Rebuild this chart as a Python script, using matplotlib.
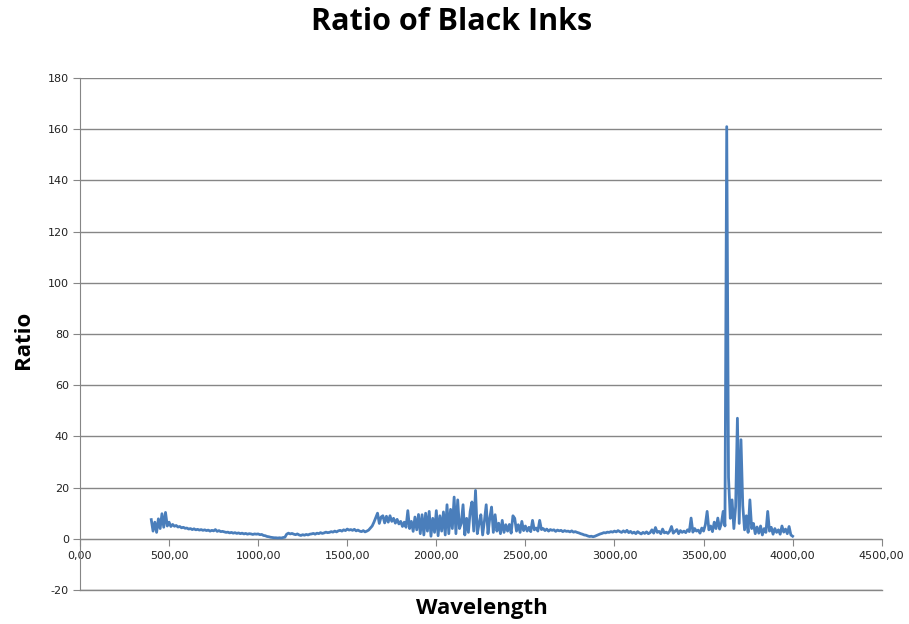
import numpy as np
import matplotlib.pyplot as plt
from matplotlib.ticker import FuncFormatter, MultipleLocator

# wavelength grid, 10 units apart, 400 .. 4000
wavelength = np.arange(400, 4001, 10)

# ratio readings, one row per 100 units of wavelength
ratio = [
    7.5, 3.0, 6.5, 2.5, 7.8, 4.0, 9.8, 4.5, 10.3, 5.0,      # 400
    6.5, 4.8, 5.6, 4.9, 5.2, 4.6, 4.8, 4.3, 4.5, 4.1,       # 500
    4.2, 3.8, 4.0, 3.6, 3.9, 3.5, 3.7, 3.4, 3.6, 3.3,       # 600
    3.5, 3.2, 3.4, 3.0, 3.3, 3.1, 3.6, 2.9, 3.2, 2.8,       # 700
    2.9, 2.7, 2.5, 2.6, 2.3, 2.5, 2.2, 2.4, 2.1, 2.3,       # 800
    2.0, 2.2, 1.9, 2.1, 1.8, 2.0, 1.9, 1.7, 1.9, 1.8,       # 900
    1.9, 1.6, 1.7, 1.3, 1.2, 0.9, 0.8, 0.6, 0.5, 0.4,       # 1000
    0.4, 0.3, 0.4, 0.3, 0.5, 0.6, 1.8, 2.2, 1.9, 2.1,       # 1100
    1.8, 1.6, 1.9, 1.5, 1.3, 1.6, 1.4, 1.7, 1.5, 1.8,       # 1200
    1.9, 2.1, 1.8, 2.2, 2.0, 2.4, 2.1, 2.3, 2.6, 2.4,       # 1300
    2.5, 2.8, 2.6, 3.0, 2.7, 3.1, 3.3, 3.0, 3.5, 3.2,       # 1400
    3.8, 3.4, 3.6, 3.3, 3.7, 3.1, 3.4, 3.0, 2.8, 3.2,       # 1500
    2.7, 3.0, 3.4, 4.2, 5.0, 6.5, 8.2, 10.0, 6.0, 8.5,      # 1600
    9.0, 6.2, 8.8, 6.5, 9.0, 6.8, 8.0, 6.1, 7.6, 5.8,       # 1700
    6.8, 4.8, 6.5, 4.5, 11.0, 4.0, 6.8, 2.9, 8.5, 3.5,      # 1800
    9.5, 2.0, 9.4, 1.5, 10.0, 3.0, 10.7, 1.0, 8.0, 2.5,     # 1900
    11.0, 1.2, 9.0, 3.0, 10.5, 1.5, 13.3, 2.0, 11.5, 4.0,   # 2000
    16.3, 2.0, 15.2, 4.0, 6.0, 13.3, 1.5, 8.0, 2.5, 10.7,   # 2100
    14.4, 3.0, 18.9, 2.0, 6.0, 9.4, 1.5, 7.0, 13.3, 2.0,    # 2200
    8.0, 12.4, 2.5, 9.4, 3.0, 6.1, 2.0, 7.2, 2.5, 5.5,      # 2300
    3.0, 5.6, 2.2, 9.0, 8.0, 3.0, 5.5, 2.5, 6.8, 3.2,       # 2400
    5.0, 3.0, 4.5, 2.8, 7.2, 3.5, 4.2, 3.0, 7.2, 3.6,       # 2500
    4.0, 3.2, 3.8, 3.0, 3.6, 3.3, 3.5, 2.9, 3.4, 3.1,       # 2600
    3.3, 2.8, 3.2, 2.9, 3.0, 2.7, 3.1, 2.6, 2.8, 2.5,       # 2700
    2.3, 2.0, 1.8, 1.5, 1.4, 1.1, 0.9, 1.0, 0.8, 1.0,       # 2800
    1.3, 1.6, 1.9, 2.1, 2.4, 2.3, 2.6, 2.5, 2.8, 2.6,       # 2900
    3.0, 2.7, 3.2, 2.8, 2.5, 3.1, 2.6, 3.3, 2.4, 2.9,       # 3000
    2.2, 2.6, 2.0, 2.8, 2.3, 1.9, 2.5, 2.1, 2.7, 2.0,       # 3100
    2.4, 3.5, 2.2, 4.4, 2.5, 2.9, 2.0, 3.8, 2.3, 2.6,       # 3200
    2.1, 3.0, 4.8, 2.2, 2.9, 3.6, 2.0, 3.2, 2.5, 3.0,       # 3300
    2.4, 3.5, 2.8, 8.1, 2.6, 4.0, 3.0, 3.4, 2.2, 4.2,       # 3400
    3.0, 5.5, 10.7, 3.5, 5.0, 2.8, 6.5, 4.0, 8.1, 3.8,      # 3500
    6.0, 10.7, 5.0, 161.0, 24.0, 8.0, 15.2, 4.0, 12.6, 47.1,  # 3600
    6.0, 38.7, 13.0, 3.5, 9.0, 2.5, 15.2, 4.0, 6.0, 2.0,    # 3700
    4.6, 2.2, 5.0, 1.5, 4.0, 2.5, 10.7, 3.0, 4.5, 1.8,      # 3800
    4.0, 2.5, 3.5, 1.8, 5.0, 2.6, 3.8, 2.0, 4.8, 1.5,       # 3900
    1.0,                                                    # 4000
]

fig = plt.figure(figsize=(9.09, 6.24), dpi=100)
ax = fig.add_axes([0.088, 0.0545, 0.882, 0.8205])

ax.plot(wavelength, ratio, color='#4a7ebb', linewidth=2.0, zorder=3)

ax.set_xlim(0, 4500)
ax.set_ylim(-20, 180)
ax.xaxis.set_major_locator(MultipleLocator(500))
ax.yaxis.set_major_locator(MultipleLocator(20))
ax.xaxis.set_major_formatter(FuncFormatter(lambda v, p: f'{v:.2f}'.replace('.', ',')))
ax.yaxis.set_major_formatter(FuncFormatter(lambda v, p: f'{v:.0f}'))

# horizontal gridlines only, x axis crossing at zero
ax.grid(axis='y', color='#868686', linewidth=1.0, zorder=1)
ax.axhline(-20, color='#868686', linewidth=1.0, clip_on=False, zorder=1)
ax.spines['top'].set_visible(False)
ax.spines['right'].set_visible(False)
ax.spines['bottom'].set_position(('data', 0))
ax.spines['bottom'].set_color('#868686')
ax.spines['left'].set_color('#868686')
ax.tick_params(axis='x', direction='out', length=5, color='#868686',
               labelsize=8, pad=4, labelcolor='#222222')
ax.tick_params(axis='y', direction='out', length=5, color='#868686',
               labelsize=8, pad=3, labelcolor='#222222')

fig.text(0.497, 0.965, 'Ratio of Black Inks', ha='center', va='center',
         fontsize=22, fontweight='bold', family='Open Sans')
fig.text(0.53, 0.025, 'Wavelength', ha='center', va='center',
         fontsize=16, fontweight='bold', family='Open Sans')
fig.text(0.026, 0.455, 'Ratio', ha='center', va='center', rotation=90,
         fontsize=16, fontweight='bold', family='Open Sans')

fig.savefig('out.png', dpi=100)
